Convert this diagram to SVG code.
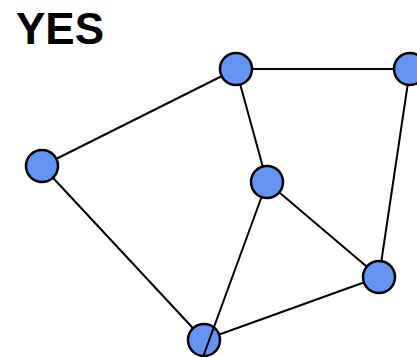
<svg xmlns="http://www.w3.org/2000/svg" width="417" height="357" viewBox="0 0 417 357">
<style>
.edge{stroke:#000;stroke-width:2;fill:none}
.node{fill:#6495f5;stroke:#000;stroke-width:2.5}
.title{font-family:"Liberation Sans",Arial,sans-serif;font-weight:bold;font-size:44px;fill:#000}
</style>
<rect width="417" height="357" fill="#fff"/>
<text class="title" x="16" y="44">YES</text>
<g id="connectors">
<line class="edge" x1="236" y1="69" x2="410" y2="69"/>
<line class="edge" x1="236" y1="69" x2="42" y2="166"/>
<line class="edge" x1="236" y1="69" x2="267" y2="182"/>
<line class="edge" x1="410" y1="69" x2="379" y2="277"/>
<line class="edge" x1="42" y1="166" x2="204" y2="340"/>
<line class="edge" x1="267" y1="182" x2="379" y2="277"/>
<line class="edge" x1="379" y1="277" x2="204" y2="340"/>
</g>
<g id="A"><circle class="node" cx="236" cy="69" r="16"/></g>
<g id="B"><circle class="node" cx="410" cy="69" r="16"/></g>
<g id="C"><circle class="node" cx="42" cy="166" r="16"/></g>
<g id="D"><circle class="node" cx="267" cy="182" r="16"/></g>
<g id="E"><circle class="node" cx="379" cy="277" r="16"/></g>
<g id="F"><circle class="node" cx="204" cy="340" r="16"/></g>
<g id="connectors-top">
<line class="edge" x1="261.2" y1="198" x2="203" y2="357"/>
</g>
</svg>
